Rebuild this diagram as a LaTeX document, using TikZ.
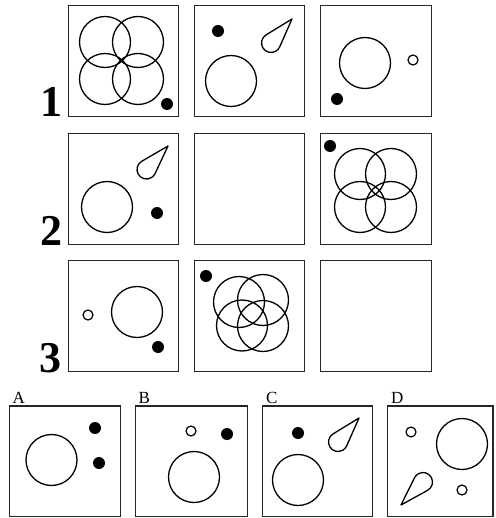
\documentclass[tikz,border=0pt]{standalone}
\usepackage{fontspec}
\setmainfont{Liberation Serif}
\usetikzlibrary{calc}
\tikzset{
  frame/.style={draw=black!85, line width=1.4pt},
  ring/.style={draw, line width=1.3pt},
  odot/.style={draw, line width=1.2pt},
  bdot/.style={fill=black},
  drop/.style={draw, line width=1.3pt, line join=round},
  rowlab/.style={font=\fontsize{44}{44}\selectfont\bfseries, inner sep=0pt, anchor=base west},
  optlab/.style={font=\fontsize{17}{17}\selectfont, inner sep=0pt, anchor=base west}
}
\newcommand\tdrop[3]{%
  \draw[drop] let \p1=($#2-#1$), \n1={atan2(\y1,\x1)}, \n2={veclen(\x1,\y1)}, \n3={acos(#3/\n2)} in
    #2 -- ($#1+(\n1+\n3:#3pt)$) arc[start angle=\n1+\n3, delta angle=360-2*\n3, radius=#3pt] -- cycle;}
\newcommand\bigc[1]{\draw[ring] #1 circle[radius=25.5pt];}
\newcommand\smallc[1]{\draw[odot] #1 circle[radius=5pt];}
\newcommand\blackd[1]{\fill[bdot] #1 circle[radius=6pt];}
\begin{document}
\begin{tikzpicture}[x=1pt,y=-1pt]
\useasboundingbox (0,0) rectangle (495,518);
% frames
\foreach \xa/\xb/\ya/\yb/\nm in {68.5/178.5/5.5/116.5/f11, 194.5/304.5/5.5/116.5/f12, 320.5/431.5/5.5/116.5/f13,
  68.5/178.5/133.5/244.5/f21, 194.5/304.5/133.5/244.5/f22, 320.5/431.5/133.5/244.5/f23,
  68.5/178.5/260.5/371.5/f31, 194.5/304.5/260.5/371.5/f32, 320.5/431.5/260.5/371.5/f33,
  9.5/120.5/406/516.5/fa, 135.5/247.5/406/516.5/fb, 262.5/372.5/406/516.5/fc, 387.5/493/406/516.5/fd}
  \draw[frame] (\xa,\ya) rectangle (\xb,\yb) coordinate (\nm);
% row labels
\node[rowlab] (l1) at (40,117) {1};
\node[rowlab] (l2) at (40,245) {2};
\node[rowlab] (l3) at (39,372) {3};
% option labels
\node[optlab] (la) at (12.5,403) {A};
\node[optlab] (lb) at (138.5,403) {B};
\node[optlab] (lc) at (266,403) {C};
\node[optlab] (ld) at (391,403) {D};
% 1-1
\bigc{(105,42)}\bigc{(138,42)}\bigc{(105,79)}\bigc{(138,79)}
\blackd{(167,104)}
% 1-2
\blackd{(218,31)}
\bigc{(231,81)}
\tdrop{(271,43)}{(292,19)}{9.5}
% 1-3
\bigc{(365,63)}
\smallc{(413,60)}
\blackd{(337,99)}
% 2-1
\tdrop{(146.5,169.5)}{(168,146)}{9.5}
\bigc{(107,207)}
\blackd{(157,213)}
% 2-3
\blackd{(330,146)}
\bigc{(360,174)}\bigc{(391,174)}\bigc{(360,207)}\bigc{(391,207)}
% 3-1
\smallc{(88,315)}
\bigc{(137,312)}
\blackd{(158,347)}
% 3-2
\blackd{(206,276)}
\bigc{(239,302)}\bigc{(263,300)}\bigc{(242,325.5)}\bigc{(263,326)}
% A
\bigc{(51.5,460)}
\blackd{(95,428)}\blackd{(99,463)}
% B
\smallc{(191,431)}
\blackd{(227,434)}
\bigc{(194,477)}
% C
\blackd{(298,433)}
\tdrop{(338,442)}{(359,418)}{9.5}
\bigc{(298,480)}
% D
\smallc{(411,432)}
\bigc{(462,444)}
\smallc{(462,490)}
\tdrop{(423,482)}{(401,505)}{9.5}
\end{tikzpicture}
\end{document}
